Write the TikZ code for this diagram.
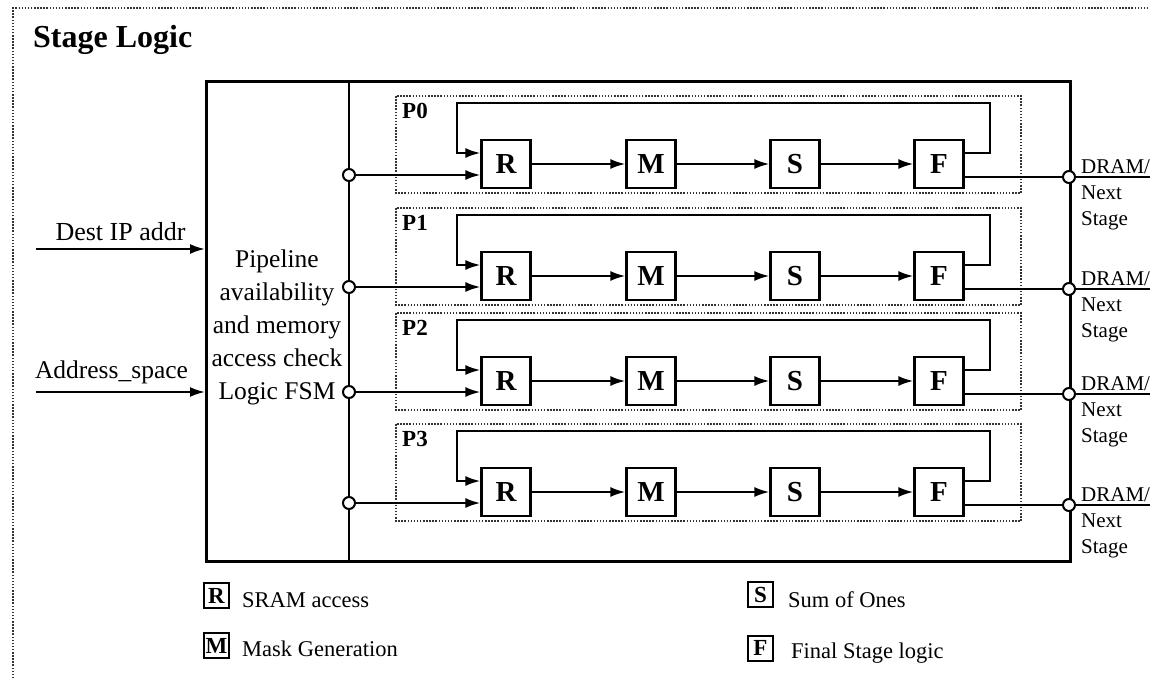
\documentclass[tikz,border=0pt]{standalone}
\usepackage{fontspec}
\setmainfont{Liberation Serif}
\usetikzlibrary{arrows.meta,positioning}
\newcommand{\fsz}[2][1.2]{\fontsize{#2}{#1\dimexpr #2pt\relax}\selectfont}
\begin{document}
\begin{tikzpicture}[x=1pt,y=-1pt,line join=miter,
    boxline/.style={draw,line width=2.6pt},
    wire/.style={line width=2.2pt},
    flow/.style={wire,-{Latex[length=15pt,width=10pt]}},
    stagebox/.style={draw,line width=2.2pt,minimum width=49pt,minimum height=48pt,inner sep=0pt,font=\fsz{29}\bfseries},
    tap/.style={circle,draw,line width=2pt,fill=white,minimum size=12pt,inner sep=0pt},
    lane/.style={draw,line width=1.5pt,dash pattern=on 1.5pt off 1.6pt,black!80},
    keybox/.style={draw,line width=2pt,minimum size=25pt,inner sep=0pt,font=\fsz{23}\bfseries},
    keytext/.style={anchor=base west,inner sep=0pt,font=\fsz{22.5}}]
  \useasboundingbox (0,0) rectangle (1150,677);
  \draw[lane] (13,700) -- (13,8) -- (1170,8);
  \node[anchor=base west,inner sep=0pt,font=\fsz{32}\bfseries] (title) at (33,48) {Stage Logic};

  \node[boxline,minimum width=864pt,minimum height=480pt,anchor=north west] (main) at (205,80) {};
  \coordinate (div) at (349,0);
  \draw[boxline] (main.north -| div) -- (main.south -| div);
  \node[align=center,inner sep=0pt,font=\fontsize{25.5}{33}\selectfont] (fsm) at (277,327)
    {Pipeline\\availability\\and memory\\access check\\Logic FSM};

  \coordinate (dst) at (36,249);
  \coordinate (asp) at (36,392);
  \draw[flow] (dst) -- (dst -| main.west)
    node[midway,anchor=base,yshift=9pt,font=\fsz{26}] (dstlbl) {Dest IP addr};
  \draw[flow] (asp) -- (asp -| main.west)
    node[midway,anchor=base,xshift=-9pt,yshift=14pt,font=\fsz{25.5}] (asplbl) {Address\_space};

  \foreach \i/\y in {0/164,1/276,2/381,3/492}{
    \draw[lane] (396,\y-68) rectangle (1021,\y+29);
    \node[anchor=base west,inner sep=0pt,font=\fsz{23}\bfseries] (p\i) at (402,\y-46) {P\i};
    \node[stagebox] (r\i) at (506,\y) {R};
    \node[stagebox] (m\i) at (651,\y) {M};
    \node[stagebox] (s\i) at (795,\y) {S};
    \node[stagebox] (f\i) at (939,\y) {F};
    \node[tap] (in\i) at (349,\y+11) {};
    \node[tap] (out\i) at (1069,\y+13) {};
    \draw[flow] (in\i) -- (in\i -| r\i.west);
    \draw[flow] (r\i) -- (m\i);
    \draw[flow] (m\i) -- (s\i);
    \draw[flow] (s\i) -- (f\i);
    \draw[flow] ([yshift=11pt]f\i.east) -- ++(25,0) |- (457,\y-61) |- ([yshift=11pt]r\i.west);
    \draw[wire] (out\i -| f\i.east) -- (out\i);
    \draw[flow] (out\i) -- ++(97,0);
    \node[anchor=north west,inner sep=0pt,align=left,font=\fontsize{21}{26}\selectfont] (dram\i)
      at (1081,\y-5) {DRAM/\\Next\\Stage};
  }

  \node[keybox] (kr) at (216.5,595.5) {R};
  \node[keytext] (krt) at (242,607) {SRAM access};
  \node[keybox] (km) at (216.5,645.5) {M};
  \node[keytext] (kmt) at (242,656) {Mask Generation};
  \node[keybox] (ks) at (760.5,594.5) {S};
  \node[keytext] (kst) at (788,607) {Sum of Ones};
  \node[keybox] (kf) at (760.5,648) {F};
  \node[keytext] (kft) at (791,658) {Final Stage logic};
\end{tikzpicture}
\end{document}
